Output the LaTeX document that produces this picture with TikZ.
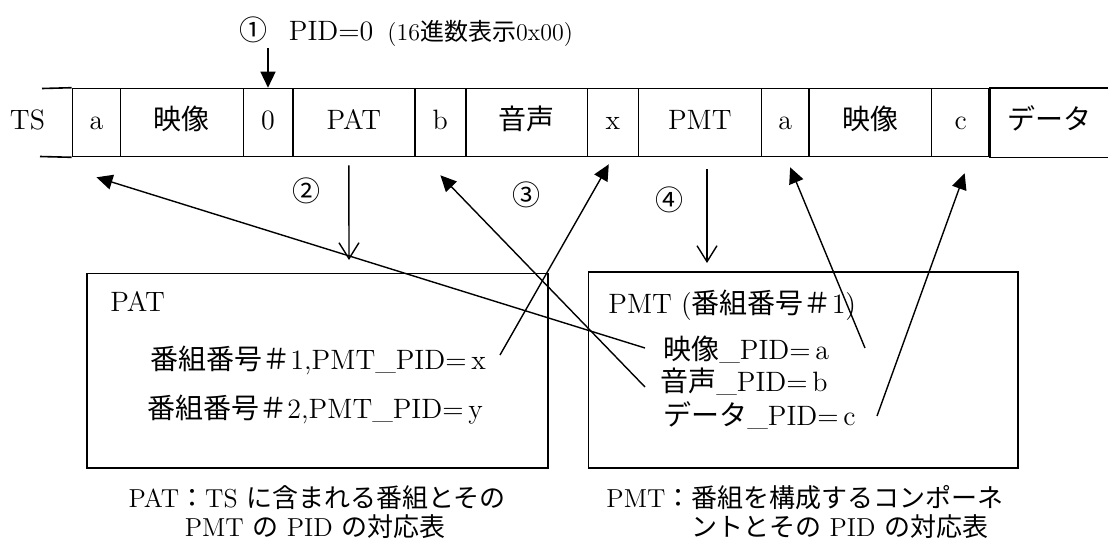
\documentclass[tikz,border=0pt]{standalone}
\usepackage{fontspec}
\newfontfamily\jpfont{Noto Sans CJK JP}
\newcommand{\jp}[1]{{\jpfont #1}}
\usetikzlibrary{arrows.meta}
\begin{document}
\begin{tikzpicture}[x=0.5pt,y=-0.5pt,
  font=\fontsize{14}{16}\selectfont,
  cell/.style={draw, line width=0.8pt, minimum height=34pt, inner sep=0pt, text height=0.8em, text depth=0.1em},
  lbl/.style={inner sep=0pt, anchor=west},
  captext/.style={inner sep=0pt, font=\fontsize{13}{15}\selectfont},
  num/.style={inner sep=0pt},
  fillarrow/.style={line width=0.7pt, -{Triangle[length=8pt,width=7.5pt]}},
  openarrow/.style={line width=0.7pt, -{Straight Barb[length=8pt,width=10pt]}},
  tbox/.style={draw, line width=0.8pt, inner sep=0pt}]
\useasboundingbox (0,0) rectangle (1108,547);

% transport stream strip
\node[cell, draw=none] (ts) at (27.5,122.5) {TS};
\node[cell, minimum width=24pt]    (a1)  at (96.5,122.5)  {a};
\node[cell, minimum width=61.4pt]  (v1)  at (181.9,122.5) {\jp{映像}};
\node[cell, minimum width=24.7pt]  (z)   at (268,122.5)   {0};
\node[cell, minimum width=61.15pt] (pat) at (353.85,122.5){PAT};
\node[cell, minimum width=25.35pt] (b)   at (440.35,122.5){b};
\node[cell, minimum width=60.8pt]  (s)   at (526.5,122.5) {\jp{音声}};
\node[cell, minimum width=25.5pt]  (x)   at (612.8,122.5) {x};
\node[cell, minimum width=61.5pt]  (pmt) at (699.8,122.5) {PMT};
\node[cell, minimum width=23.85pt] (a2)  at (785.15,122.5){a};
\node[cell, minimum width=61.15pt] (v2)  at (870.15,122.5){\jp{映像}};
\node[cell, minimum width=29.35pt] (c)   at (960.65,122.5){c};
\node[cell, draw=none, minimum width=59pt] (d) at (1049,122.5) {\jp{データ}};
\draw[line width=0.8pt] (d.north east) -- (d.north west);
\draw[line width=1.6pt] (d.north west) -- (d.south west);
\draw[line width=0.8pt] (d.south west) -- (d.south east);
\coordinate (tsT) at (42,88.5);
\coordinate (tsB) at (40,156.5);
\draw[line width=0.8pt] (tsT) -- (a1.north west);
\draw[line width=0.8pt] (tsB) -- (a1.south west);

% PID=0 note
\node[lbl] (note) at (239.5,32) {\jp{①}\hspace{0.75em}PID=0\hspace{0.5em}{\fontsize{12}{14}\selectfont(16\jp{進数表示}0x00)}};
\coordinate (t1) at (268,48);
\draw[fillarrow] (t1) -- (z.north);

% PAT table
\node[tbox, minimum width=230.65pt, minimum height=97.2pt] (patbox) at (317.35,370.5) {};
\node[lbl] (pattitle) at (110,301) {PAT};
\node[lbl] (p1) at (150,360) {\jp{番組番号＃}1,PMT\_PID=\,x};
\node[lbl] (p2) at (147,410) {\jp{番組番号＃}2,PMT\_PID=\,y};

% PMT table
\node[tbox, minimum width=214.7pt, minimum height=98pt] (pmtbox) at (803,369.7) {};
\node[lbl] (pmttitle) at (608,305) {PMT (\jp{番組番号＃}1)};
\node[lbl] (va) at (663,350) {\jp{映像}\_PID=\,a};
\node[lbl] (vb) at (660,382) {\jp{音声}\_PID=\,b};
\node[lbl] (vc) at (663,415) {\jp{データ}\_PID=\,c};

% step labels
\node[num] (n2) at (306,191) {\jp{②}};
\node[num] (n3) at (526,195) {\jp{③}};
\node[num] (n4) at (669,200) {\jp{④}};

% step arrows
\coordinate (t2) at (349,260);
\draw[openarrow] ([xshift=-2.5pt,yshift=-4pt]pat.south) -- (t2);
\coordinate (t4) at (707,263);
\draw[openarrow] ([xshift=3.6pt,yshift=-6pt]pmt.south) -- (t4);

% PID references
\coordinate (ex) at (500,355);
\draw[fillarrow] (ex) -- ([xshift=-2pt,yshift=-3.5pt]x.south);
\coordinate (ea) at (645,348);
\draw[fillarrow] (ea) -- ([yshift=-10pt]a1.south);
\coordinate (eb) at (645,387);
\draw[fillarrow] (eb) -- ([yshift=-9pt]b.south);
\coordinate (ea2) at (865,348);
\draw[fillarrow] (ea2) -- ([xshift=2.5pt,yshift=-5pt]a2.south);
\coordinate (ec) at (877,416);
\draw[fillarrow] (ec) -- ([xshift=2pt,yshift=-8pt]c.south);

% captions
\node[captext] (cap1a) at (317,498) {PAT\jp{：}TS \jp{に含まれる番組とその}};
\node[captext] (cap1b) at (315,527) {PMT \jp{の} PID \jp{の対応表}};
\node[captext] (cap2a) at (805,498) {PMT\jp{：番組を構成するコンポーネ}};
\node[captext] (cap2b) at (840,527) {\jp{ントとその} PID \jp{の対応表}};
\end{tikzpicture}
\end{document}
